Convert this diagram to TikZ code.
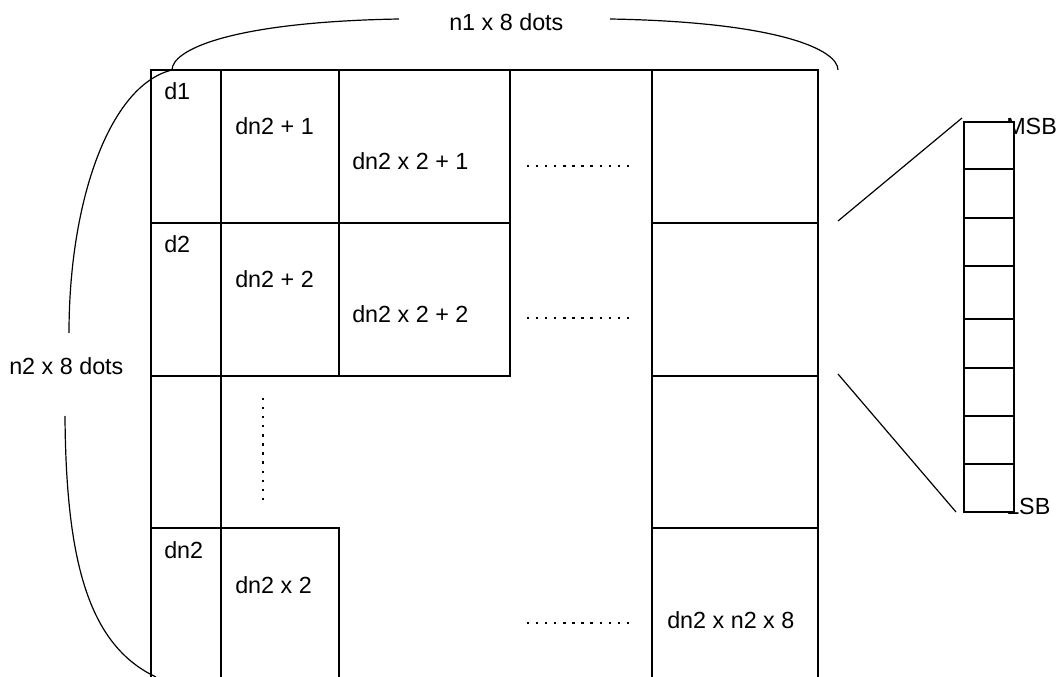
\documentclass[tikz,border=0pt]{standalone}
\usepackage{fontspec}
\setmainfont{Liberation Sans}
\begin{document}
\begin{tikzpicture}[x=0.75pt, y=-0.75pt,
  every node/.style={inner sep=0pt, anchor=base west},
  grid/.style={line width=1.6pt},
  brace/.style={line width=0.9pt},
  leader/.style={line width=1.7pt, dash pattern=on 1.7pt off 5.1pt}]
\useasboundingbox (0,0) rectangle (1061,677);
\coordinate (NW) at (151,70);
\coordinate (NE) at (818,70);
\coordinate (SW) at (151,677);
\coordinate (SE) at (818,677);

\draw[grid] (SW) -- (NW) -- (NE) -- (SE);
\draw[grid] (221,70) -- (221,677);
\draw[grid] (339,70) -- (339,376);
\draw[grid] (510,70) -- (510,376) -- (151,376);
\draw[grid] (151,223) -- (510,223);
\draw[grid] (151,528) -- (339,528) -- (339,677);
\draw[grid] (652,70) -- (652,677);
\draw[grid] (652,223) -- (818,223);
\draw[grid] (652,376) -- (818,376);
\draw[grid] (652,528) -- (818,528);

\coordinate (TL) at (172,70);
\coordinate (TR) at (838,70);
\draw[brace] (TL) .. controls (172,50) and (230,22) .. (399,19);
\draw[brace] (610,19) .. controls (780,22) and (838,50) .. (TR);
\draw[brace] (TL) .. controls (110,85) and (69,200) .. (69,333);
\draw[brace] (65,416) .. controls (66,560) and (88,645) .. (156,677);

\draw[leader] (527,166) -- (630,166);
\draw[leader] (527,318) -- (630,318);
\draw[leader] (527,623) -- (630,623);
\draw[leader] (263,398) -- (263,500);

\fontsize{17.5}{21}\selectfont
\node (width) at (449,31) {n1 x 8 dots};
\node (height) at (9,375) {n2 x 8 dots};
\node (d1) at (164,100) {d1};
\node (d2) at (164,253) {d2};
\node (dn) at (164,558) {dn2};
\node (c21) at (235,135) {dn2 + 1};
\node (c22) at (235,288) {dn2 + 2};
\node (c2n) at (235,593) {dn2 x 2};
\node (c31) at (352,170) {dn2 x 2 + 1};
\node (c32) at (352,323) {dn2 x 2 + 2};
\node (cnn) at (667,628) {dn2 x n2 x 8};
\node (msb) at (1006,135) {MSB};
\node (lsb) at (1006,514) {LSB};

\draw[brace] (838,221) -- (962,118);
\draw[brace] (838,374) -- (956,512);
\foreach \a/\b in {122/169,169/218,218/266,266/319,319/368,368/416,416/464,464/512}
  \draw[grid, fill=white] (964,\a) rectangle (1014,\b);
\end{tikzpicture}
\end{document}
